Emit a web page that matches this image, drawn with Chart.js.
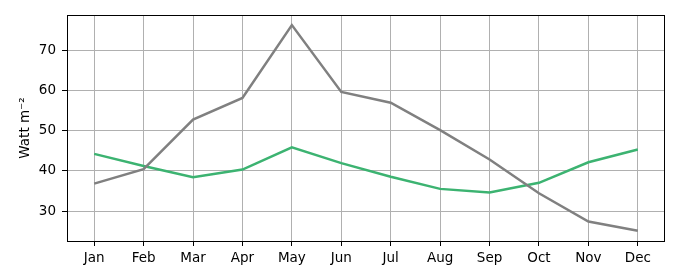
<!DOCTYPE html>
<html>
<head>
<meta charset="utf-8">
<script src="https://cdn.jsdelivr.net/npm/chart.js@4"></script>
<style>
  html, body { margin: 0; padding: 0; background: #fff; }
  #wrap { width: 680px; height: 280px; }
</style>
</head>
<body>
<div id="wrap"><canvas id="chart1"></canvas></div>
<script>
// 月ごとの値 (Watt m-2)
const months = ['Jan','Feb','Mar','Apr','May','Jun','Jul','Aug','Sep','Oct','Nov','Dec']
const grayValues = [36.8, 40.4, 52.7, 58.1, 76.2, 59.6, 56.9, 50.1, 42.8, 34.4, 27.4, 25.1]
const greenValues = [44.2, 41.2, 38.4, 40.3, 45.8, 41.9, 38.5, 35.5, 34.6, 37.0, 42.1, 45.3]
const yTicks = [30, 40, 50, 60, 70]

const tickFont = { family: 'DejaVu Sans', size: 13.5 }

function toPoints(values) {
  return values.map((v, i) => ({ x: i, y: v }))
}

// 枠線 (上下左右)
const framePlugin = {
  id: 'frame',
  afterDraw(chart) {
    const { ctx, chartArea: a } = chart
    ctx.save()
    ctx.strokeStyle = '#000'
    ctx.lineWidth = 1
    ctx.strokeRect(Math.round(a.left) + 0.5, Math.round(a.top) + 0.5,
      Math.round(a.right - a.left) - 1, Math.round(a.bottom - a.top))
    ctx.restore()
  }
}

const ctx = document.getElementById('chart1')
new Chart(ctx, {
  type: 'line',
  data: {
    datasets: [{
      data: toPoints(grayValues),
      borderColor: '#808080',
      borderWidth: 2.5,
      pointRadius: 0,
      tension: 0
    }, {
      data: toPoints(greenValues),
      borderColor: '#3cb371',
      borderWidth: 2.5,
      pointRadius: 0,
      tension: 0
    }]
  },
  options: {
    responsive: true,
    maintainAspectRatio: false,
    animation: false,
    layout: { padding: { left: 0, top: 15, right: 15, bottom: 0 } },
    plugins: {
      legend: { display: false },
      tooltip: { enabled: false }
    },
    scales: {
      x: {
        type: 'linear',
        min: -0.55,
        max: 11.55,
        afterBuildTicks(scale) {
          scale.ticks = months.map((m, i) => ({ value: i }))
        },
        afterFit(scale) { scale.height = 39 },
        border: { display: false },
        grid: { color: '#b0b0b0', lineWidth: 1, tickColor: '#000', tickLength: 5 },
        ticks: {
          autoSkip: false,
          maxRotation: 0,
          padding: 4,
          color: '#000',
          font: tickFont,
          callback: (v) => months[v]
        }
      },
      y: {
        min: 22.55,
        max: 78.7,
        afterBuildTicks(scale) {
          scale.ticks = yTicks.map(v => ({ value: v }))
        },
        afterFit(scale) { scale.width = 67 },
        border: { display: false },
        grid: { color: '#b0b0b0', lineWidth: 1, tickColor: '#000', tickLength: 5 },
        ticks: { padding: 6, color: '#000', font: tickFont },
        title: {
          display: true,
          text: 'Watt m\u207B\u00B2',
          color: '#000',
          font: tickFont,
          padding: { top: 17, bottom: 0 }
        }
      }
    }
  },
  plugins: [framePlugin]
})
</script>
</body>
</html>
